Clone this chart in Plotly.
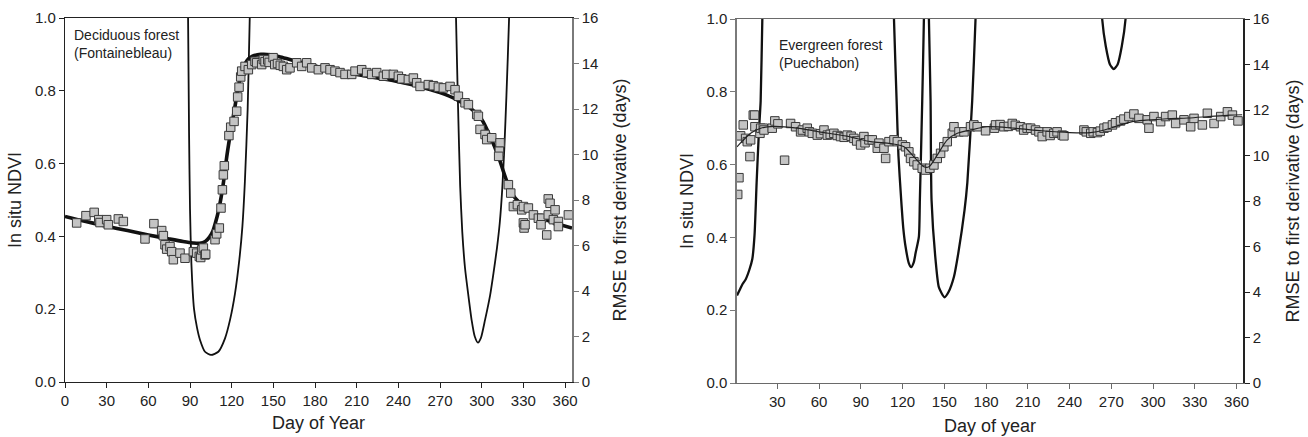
import plotly.graph_objects as go

# ---------------- Left panel: Deciduous forest (Fontainebleau) ----------------
dec_obs_day = [8.4, 15.1, 21, 24.3, 25.2, 30, 31.2, 38.4, 42, 57.6, 64, 69.6, 70.8, 72, 73.2, 75.6,
               76.8, 78, 82.8, 86.4, 92.4, 94.8, 96.7, 97.7, 98.4, 99.6, 100.8, 101.3, 108, 109.2,
               111.1, 112.3, 113.3, 114, 114.7, 118, 119.3, 121.7, 123.6, 124.3, 125.3, 126.5, 127.2,
               129.6, 132, 134.4, 136.8, 138, 141.6, 142.8, 144, 146, 147, 149.8, 151, 153, 155, 157.2,
               159.6, 162, 166.8, 170.4, 174, 177.6, 182.4, 187.2, 190.8, 194.4, 198, 201.6, 206.4,
               208.8, 213.6, 217.2, 220.8, 224.4, 229.2, 231.6, 236.4, 240, 242.4, 247.2, 250.8, 253.2,
               255.6, 261.6, 265.2, 268.8, 272.4, 277.2, 280.8, 283.2, 288, 290.4, 296.4, 297.6, 298.8,
               302.4, 303.6, 307.2, 313.2, 312.7, 312.2, 319.2, 320.9, 322.8, 325.7, 328.8, 330, 333.6,
               330, 330.5, 331.2, 337.2, 340.8, 343.2, 342.7, 346.8, 347.9, 347.9, 349.2, 351.6, 352.8,
               355.2, 355.2, 362.4]
dec_obs_ndvi = [0.437, 0.457, 0.466, 0.446, 0.438, 0.446, 0.432, 0.448, 0.441, 0.393, 0.435, 0.416,
                0.402, 0.377, 0.365, 0.372, 0.358, 0.336, 0.354, 0.340, 0.358, 0.354, 0.345, 0.342,
                0.363, 0.368, 0.349, 0.351, 0.391, 0.407, 0.423, 0.478, 0.528, 0.569, 0.594, 0.677,
                0.700, 0.716, 0.744, 0.783, 0.810, 0.838, 0.854, 0.867, 0.858, 0.872, 0.881, 0.877,
                0.872, 0.886, 0.880, 0.885, 0.878, 0.891, 0.872, 0.875, 0.870, 0.867, 0.858, 0.863,
                0.877, 0.867, 0.877, 0.863, 0.858, 0.863, 0.858, 0.854, 0.850, 0.845, 0.845, 0.854,
                0.858, 0.850, 0.845, 0.850, 0.840, 0.845, 0.845, 0.840, 0.833, 0.831, 0.835, 0.822,
                0.812, 0.817, 0.814, 0.810, 0.808, 0.812, 0.803, 0.785, 0.767, 0.762, 0.735, 0.730,
                0.694, 0.680, 0.666, 0.671, 0.657, 0.634, 0.620, 0.542, 0.519, 0.482, 0.487, 0.473,
                0.482, 0.478, 0.437, 0.423, 0.432, 0.459, 0.450, 0.450, 0.432, 0.404, 0.459, 0.503,
                0.491, 0.446, 0.473, 0.441, 0.427, 0.459]

dec_fit_day = [0, 15, 30, 45, 60, 75, 85, 92, 97, 101, 104, 106.5, 108.5, 110.5, 112.5, 114.5, 116.5,
               118.5, 120.5, 122.5, 124.5, 126.5, 128.5, 131, 135, 141, 148, 155, 165, 180, 195, 210,
               225, 240, 255, 270, 282, 291.6, 300, 306, 312, 316.8, 321.6, 327.6, 337.2, 350, 365]
dec_fit_ndvi = [0.455, 0.441, 0.428, 0.416, 0.404, 0.393, 0.386, 0.382, 0.381, 0.386, 0.398, 0.415,
                0.440, 0.470, 0.510, 0.560, 0.620, 0.670, 0.715, 0.760, 0.805, 0.840, 0.865, 0.883,
                0.895, 0.900, 0.899, 0.893, 0.883, 0.868, 0.855, 0.845, 0.835, 0.825, 0.812, 0.795,
                0.776, 0.753, 0.721, 0.675, 0.620, 0.565, 0.519, 0.491, 0.464, 0.440, 0.423]

dec_rmse_day = [88.2, 88.6, 89.3, 90, 91, 92.9, 95, 97.2, 100.8, 105.1, 110.4, 115.2, 118.8, 122.4,
                125.5, 127.7, 129.5, 131.5, 133, 133.5, None,
                281.1, 281.5, 283, 284.5, 286, 288, 290.4, 292.8, 295, 297.3, 299.5, 302.4, 306,
                308.5, 311, 313, 314.8, 316.3, 317.8, 319.7, 320.1]
dec_rmse = [17.5, 16, 11, 7.6, 5.2, 3.2, 2.4, 1.85, 1.33, 1.19, 1.33, 1.92, 2.73, 3.9, 5.37, 6.83,
            8.8, 12, 16, 17.5, None,
            17.5, 16, 12, 8.6, 6.6, 5.0, 3.8, 2.7, 2.0, 1.73, 1.95, 2.73, 3.8, 4.8, 5.9, 7.0, 8.5,
            10.3, 12.6, 16, 17.5]

# ---------------- Right panel: Evergreen forest (Puechabon) ----------------
eve_obs_day = [1.5, 2.4, 3.6, 5.5, 7.2, 8.4, 10.3, 10.8, 12.7, 13.6, 13.9, 17.5, 18, 19.9, 20.4, 26.3,
               28.2, 30.4, 35.2, 39.5, 43.1, 46.7, 48, 51.5, 53, 55.1, 58.7, 61, 63.5, 65.9, 68, 70.6,
               73, 75.4, 78, 80.2, 83, 85, 87, 89.8, 92.2, 93, 95.8, 98.2, 101.8, 103, 106.6, 107.8,
               110.2, 113.8, 116.2, 119.8, 122.1, 124.5, 125.7, 128.1, 130.5, 134.1, 136.5, 139.6,
               142.5, 144.9, 147.3, 149.6, 152.1, 155.7, 156.9, 160.5, 164.1, 168.8, 171.2, 173.6,
               179.6, 186, 186.8, 190, 192.8, 196, 198.8, 201, 204.7, 207, 209.5, 212, 215.5, 218,
               220.3, 223.9, 226, 228.7, 231, 234.7, 235.9, 250.3, 252, 255.2, 257, 260, 262, 264.7,
               267, 270.8, 273, 276.6, 279, 282.6, 286.2, 289.8, 295.8, 297, 300.6, 305.4, 309, 313.8,
               316.2, 322.2, 327, 329.4, 335.4, 339, 343.8, 348.6, 353.4, 357, 361]
eve_obs_ndvi = [0.518, 0.564, 0.679, 0.709, 0.672, 0.663, 0.622, 0.668, 0.736, 0.736, 0.704, 0.686,
                0.700, 0.700, 0.695, 0.700, 0.720, 0.712, 0.612, 0.713, 0.704, 0.690, 0.695, 0.700,
                0.690, 0.686, 0.681, 0.685, 0.695, 0.681, 0.683, 0.686, 0.680, 0.677, 0.675, 0.681,
                0.678, 0.672, 0.665, 0.654, 0.677, 0.660, 0.668, 0.668, 0.645, 0.659, 0.645, 0.617,
                0.663, 0.668, 0.663, 0.654, 0.649, 0.635, 0.617, 0.608, 0.599, 0.590, 0.585, 0.590,
                0.599, 0.617, 0.631, 0.649, 0.663, 0.686, 0.704, 0.690, 0.690, 0.704, 0.709, 0.704,
                0.693, 0.700, 0.709, 0.710, 0.704, 0.705, 0.713, 0.708, 0.704, 0.695, 0.700, 0.700,
                0.695, 0.690, 0.677, 0.690, 0.680, 0.686, 0.690, 0.681, 0.679, 0.695, 0.690, 0.686,
                0.690, 0.688, 0.692, 0.700, 0.703, 0.709, 0.715, 0.720, 0.725, 0.732, 0.739, 0.727,
                0.723, 0.700, 0.732, 0.718, 0.732, 0.736, 0.713, 0.723, 0.704, 0.727, 0.709, 0.741,
                0.713, 0.732, 0.745, 0.736, 0.720]

eve_fit_day = [1, 5, 10.8, 18, 27.5, 44.3, 60, 80, 97, 111.4, 121, 128, 135.3, 138.9, 144.9, 152.1,
               159.3, 168.8, 180.8, 200, 220, 240, 255, 265, 275, 285, 295, 310, 325, 340, 355, 364]
eve_fit_ndvi = [0.649, 0.665, 0.686, 0.700, 0.705, 0.700, 0.690, 0.678, 0.663, 0.658, 0.649, 0.622,
                0.594, 0.594, 0.626, 0.668, 0.686, 0.695, 0.704, 0.700, 0.693, 0.688, 0.688, 0.695,
                0.707, 0.718, 0.722, 0.726, 0.728, 0.732, 0.736, 0.737]

eve_rmse_day = [1, 3, 5, 7.2, 10, 12, 13.6, 15.1, 16.7, 18, 19.2, 20, None,
                113.3, 113.8, 115.7, 117, 119, 120.5, 122.1, 124.5, 126.2, 128, 129.3, 131.7, 132.4,
                134.1, 135.3, 135.6, None,
                138.6, 138.9, 140.1, 140.8, 143.7, 146.1, 150.1, 153, 156.9, 160, 164.5, 166.5, 170,
                172.4, 173, None,
                262.5, 263.4, 266, 269, 271.7, 274.5, 277.5, 280.2, 281]
eve_rmse = [3.85, 4.1, 4.35, 4.55, 5.0, 5.45, 6.5, 8.8, 11, 12.4, 16, 17.5, None,
            17.5, 16, 12.4, 10, 8.04, 6.8, 6.0, 5.26, 5.09, 5.3, 5.7, 6.43, 8.04, 12.4, 16, 17.5, None,
            17.5, 16, 12.4, 8.04, 5.4, 4.2, 3.77, 4.0, 4.67, 5.7, 7.6, 8.8, 12.4, 16, 17.5, None,
            17.5, 16, 14.8, 14.0, 13.8, 14.0, 14.8, 16, 17.5]

day_ticks_left = [0, 30, 60, 90, 120, 150, 180, 210, 240, 270, 300, 330, 360]
day_ticks_right = [30, 60, 90, 120, 150, 180, 210, 240, 270, 300, 330, 360]
ndvi_ticks = [0.0, 0.2, 0.4, 0.6, 0.8, 1.0]
rmse_ticks = [0, 2, 4, 6, 8, 10, 12, 14, 16]

# ---------------- Figure ----------------
W, H = 1308, 437
FONT = "Liberation Sans, Arial, Helvetica, sans-serif"
INK = "#222222"
SQ_FILL = "#c4c4c4"
SQ_EDGE = "#3a3a3a"

fig = go.Figure()

fig.add_trace(go.Scatter(x=dec_rmse_day, y=dec_rmse, mode="lines", xaxis="x", yaxis="y",
                         line=dict(color="#111111", width=1.8, shape="spline", smoothing=0.6),
                         connectgaps=False, showlegend=False, hoverinfo="skip"))
fig.add_trace(go.Scatter(x=dec_fit_day, y=dec_fit_ndvi, mode="lines", xaxis="x", yaxis="y2",
                         line=dict(color="#111111", width=3.6, shape="spline", smoothing=0.8),
                         showlegend=False, hoverinfo="skip"))
fig.add_trace(go.Scatter(x=dec_obs_day, y=dec_obs_ndvi, mode="markers", xaxis="x", yaxis="y2",
                         marker=dict(symbol="square", size=8.5, color=SQ_FILL,
                                     line=dict(color=SQ_EDGE, width=1)),
                         showlegend=False))

fig.add_trace(go.Scatter(x=eve_rmse_day, y=eve_rmse, mode="lines", xaxis="x2", yaxis="y3",
                         line=dict(color="#111111", width=2.3, shape="spline", smoothing=0.6),
                         connectgaps=False, showlegend=False, hoverinfo="skip"))
fig.add_trace(go.Scatter(x=eve_obs_day, y=eve_obs_ndvi, mode="markers", xaxis="x2", yaxis="y4",
                         marker=dict(symbol="square", size=8.5, color=SQ_FILL,
                                     line=dict(color=SQ_EDGE, width=1)),
                         showlegend=False))
fig.add_trace(go.Scatter(x=eve_fit_day, y=eve_fit_ndvi, mode="lines", xaxis="x2", yaxis="y4",
                         line=dict(color="#222222", width=1.2, shape="spline", smoothing=0.8),
                         showlegend=False, hoverinfo="skip"))

tickfont = dict(family=FONT, size=15, color=INK)
titlefont = dict(family=FONT, size=18, color=INK)

L_dom_x = [65 / W, 572 / W]
R_dom_x = [737 / W, 1243 / W]
L_dom_y = [1 - 382 / H, 1 - 18 / H]
R_dom_y = [1 - 383 / H, 1 - 19 / H]

common_x = dict(ticks="outside", ticklen=5, tickwidth=1, showgrid=False, zeroline=False,
                showline=True, linewidth=1.2, mirror=True, tickfont=tickfont, tickmode="array",
                automargin=False)
common_y = dict(tickmode="array", ticks="outside", ticklen=5, tickwidth=1, showline=True,
                showgrid=False, zeroline=False, tickfont=tickfont, automargin=False)

fig.update_layout(
    width=W, height=H,
    margin=dict(l=0, r=0, t=0, b=0),
    paper_bgcolor="white", plot_bgcolor="white",
    font=dict(family=FONT, color=INK),
    xaxis=dict(common_x, domain=L_dom_x, range=[0, 365], tickvals=day_ticks_left,
               linecolor="#222222", tickcolor="#222222", anchor="y",
               title=dict(text="Day of Year", font=titlefont, standoff=8)),
    yaxis=dict(common_y, domain=L_dom_y, range=[0, 16], side="right", anchor="x",
               tickvals=rmse_ticks, linewidth=1.5, linecolor="#7a7a7a", tickcolor="#7a7a7a",
               title=dict(text="RMSE to first derivative (days)", font=titlefont, standoff=16)),
    yaxis2=dict(common_y, range=[0, 1], overlaying="y", side="left", anchor="x",
                tickvals=ndvi_ticks, tickformat=".1f", linewidth=1.2, linecolor="#222222",
                tickcolor="#222222",
                title=dict(text="In situ NDVI", font=titlefont, standoff=8)),
    xaxis2=dict(common_x, domain=R_dom_x, range=[1, 364.6], tickvals=day_ticks_right,
                linecolor="#6a6a6a", tickcolor="#6a6a6a", anchor="y3",
                title=dict(text="Day of year", font=titlefont, standoff=10)),
    yaxis3=dict(common_y, domain=R_dom_y, range=[0, 16], side="right", anchor="x2",
                tickvals=rmse_ticks, linewidth=1.5, linecolor="#222222", tickcolor="#222222",
                title=dict(text="RMSE to first derivative (days)", font=titlefont, standoff=18)),
    yaxis4=dict(common_y, range=[0, 1], overlaying="y3", side="left", anchor="x2",
                tickvals=ndvi_ticks, tickformat=".1f", linewidth=1.5, linecolor="#7a7a7a",
                tickcolor="#7a7a7a",
                title=dict(text="In situ NDVI", font=titlefont, standoff=8)),
    annotations=[
        dict(text="Deciduous forest<br>(Fontainebleau)", xref="paper", yref="paper",
             x=72 / W, y=1 - 25 / H, xanchor="left", yanchor="top", align="left",
             showarrow=False, font=dict(family=FONT, size=14, color=INK)),
        dict(text="Evergreen forest<br>(Puechabon)", xref="paper", yref="paper",
             x=777 / W, y=1 - 35 / H, xanchor="left", yanchor="top", align="left",
             showarrow=False, font=dict(family=FONT, size=14, color=INK)),
    ],
)

fig.write_html("out.html", config={"displayModeBar": False},
               post_script="document.body.style.margin='0';document.body.style.overflow='hidden';")
